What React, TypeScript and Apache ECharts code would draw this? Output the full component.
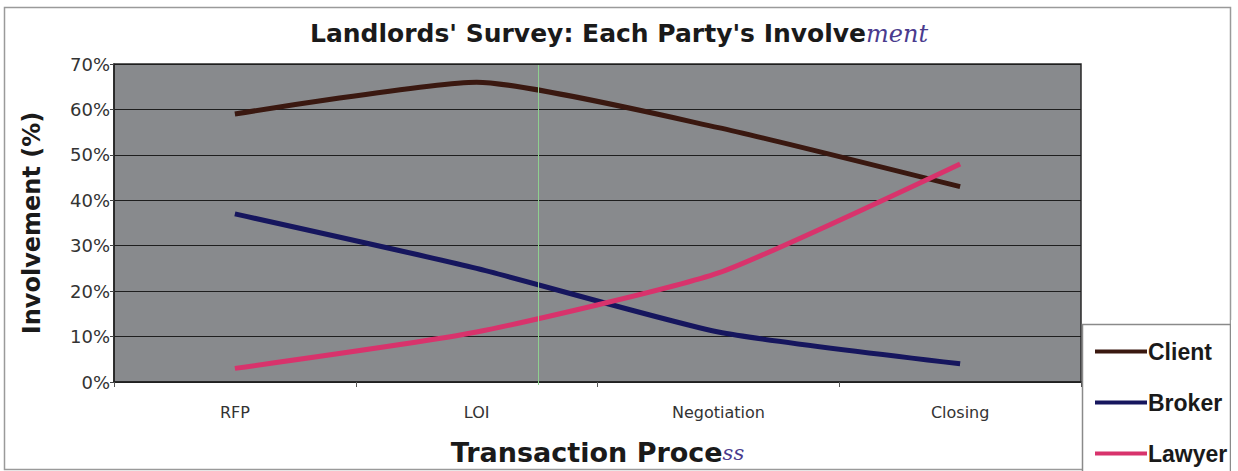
import React, { useEffect, useRef } from "react";
import * as echarts from "echarts";

const categories = ["RFP", "LOI", "Negotiation", "Closing"];
const clientValues = [59, 66, 56, 43];
const brokerValues = [37, 25, 11, 4];
const lawyerValues = [3, 11, 24, 48];
const seriesNames = ["Client", "Broker", "Lawyer"];
const seriesColors = ["#3a1810", "#16165e", "#d8336c"];

export default function App() {
  const ref = useRef<HTMLDivElement>(null);
  useEffect(() => {
    document.body.style.margin = "0";
    const chart = echarts.init(ref.current!, null, { renderer: "svg" });
    const font = "Liberation Sans, Arial, sans-serif";
    const wide = "DejaVu Sans, Liberation Sans, sans-serif";
    const hand = {
      fontFamily: "DejaVu Serif, serif",
      fontStyle: "italic",
      fontWeight: "normal",
      fontSize: 24,
      color: "#4a3b8e",
    };
    const values = [clientValues, brokerValues, lawyerValues];
    chart.setOption({
      animation: false,
      backgroundColor: "#ffffff",
      title: {
        text: "Landlords' Survey: Each Party's Involve{h|ment}",
        left: 305,
        top: 16,
        textStyle: {
          fontFamily: wide,
          fontWeight: "bold",
          fontSize: 25,
          color: "#1a1a1a",
          rich: { h: hand },
        },
      },
      graphic: [
        {
          type: "rect",
          z: -10,
          shape: { x: 4.5, y: 7.5, width: 1226, height: 462 },
          style: { fill: "#ffffff", stroke: "#9a9a9a", lineWidth: 1.5 },
        },
        {
          type: "rect",
          z: 0,
          shape: { x: 1082.5, y: 324.5, width: 148, height: 160 },
          style: { fill: "#ffffff", stroke: "#8a8a8a", lineWidth: 1.5 },
        },
        {
          type: "line",
          z: 100,
          shape: { x1: 538.5, y1: 65, x2: 538.5, y2: 385 },
          style: { stroke: "#8fd08f", lineWidth: 1 },
        },
        {
          type: "rect",
          z: 200,
          shape: { x: 1231, y: 320, width: 10, height: 160 },
          style: { fill: "#ffffff" },
        },
      ],
      legend: {
        data: seriesNames,
        orient: "vertical",
        left: 1090,
        top: 335,
        itemWidth: 52,
        itemHeight: 4,
        itemGap: 28,
        icon: "rect",
        z: 50,
        textStyle: {
          fontFamily: font,
          fontWeight: "bold",
          fontSize: 23,
          color: "#1a1a1a",
          padding: [0, 0, 0, -4],
        },
      },
      grid: {
        left: 114,
        right: 157,
        top: 64,
        bottom: 85,
        show: true,
        backgroundColor: "#888a8d",
        borderColor: "#2a2a2a",
        borderWidth: 1.5,
      },
      xAxis: {
        type: "category",
        data: categories,
        boundaryGap: true,
        name: "Transaction Proce{h|ss}",
        nameLocation: "middle",
        nameGap: 57,
        nameTextStyle: {
          fontFamily: wide,
          fontWeight: "bold",
          fontSize: 27,
          color: "#1a1a1a",
          rich: { h: { ...hand, fontSize: 21 } },
        },
        axisLine: { lineStyle: { color: "#222", width: 1.5 } },
        axisTick: { show: true, length: 5, lineStyle: { color: "#555" } },
        axisLabel: {
          fontFamily: wide,
          fontSize: 16,
          color: "#333",
          margin: 22,
        },
      },
      yAxis: {
        type: "value",
        min: 0,
        max: 70,
        interval: 10,
        name: "Involvement (%)",
        nameLocation: "middle",
        nameGap: 70,
        nameTextStyle: {
          fontFamily: wide,
          fontWeight: "bold",
          fontSize: 24,
          color: "#1a1a1a",
        },
        axisLine: { show: true, lineStyle: { color: "#222", width: 1.5 } },
        axisTick: { show: true, length: 4, lineStyle: { color: "#444" } },
        axisLabel: {
          formatter: "{value}%",
          fontFamily: wide,
          fontSize: 18,
          color: "#333",
          margin: 4,
        },
        splitLine: { show: true, lineStyle: { color: "#1e1e1e", width: 1 } },
      },
      series: seriesNames.map((name, i) => ({
        name,
        type: "line",
        data: values[i],
        smooth: 0.18,
        symbol: "none",
        color: seriesColors[i],
        lineStyle: { width: 5, color: seriesColors[i] },
        z: 3 + i,
      })),
    });
    return () => chart.dispose();
  }, []);
  return <div ref={ref} style={{ width: 1238, height: 471 }} />;
}
